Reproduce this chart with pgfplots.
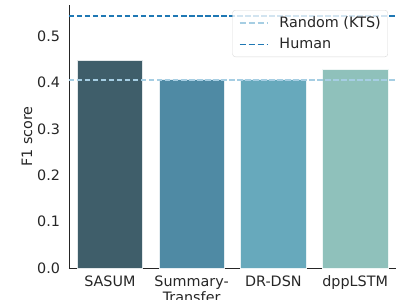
\documentclass[border=0pt]{standalone}
\usepackage{pgfplots}
\pgfplotsset{compat=1.18}
\usepackage{fontspec}
\setmainfont{DejaVu Sans}
\definecolor{txt}{HTML}{262626}
\definecolor{cA}{HTML}{3F5E6A}
\definecolor{cB}{HTML}{4F8AA4}
\definecolor{cC}{HTML}{67A9BC}
\definecolor{cD}{HTML}{8FC1BB}
\definecolor{rnd}{HTML}{A6CEE3}
\definecolor{hum}{HTML}{1F78B4}
\begin{document}
\fontsize{14.4}{17}\selectfont
\begin{tikzpicture}
\begin{axis}[
  scale only axis,
  width=327bp, height=263bp,
  xmin=-0.5, xmax=3.5,
  ymin=0, ymax=0.567,
  axis lines=left,
  axis line style={-, draw=txt, line width=0.8pt},
  major tick length=0pt,
  xtick={0,1,2,3},
  xticklabels={SASUM,{Summary-\\Transfer},DR-DSN,dppLSTM},
  xticklabel style={align=center, text=txt, font=\fontsize{14.4}{16}\selectfont, yshift=-3bp},
  ytick={0,0.1,0.2,0.3,0.4,0.5},
  yticklabel style={text=txt, font=\fontsize{14.4}{17}\selectfont, xshift=-4bp},
  /pgf/number format/assume math mode=true,
  yticklabel={\pgfmathprintnumber[fixed,fixed zerofill,precision=1]{\tick}},
  ylabel={F1 score},
  ylabel shift=-5bp,
  ylabel style={text=txt, font=\fontsize{14.4}{17}\selectfont},
  legend style={at={(1,1)}, anchor=north east, xshift=-8bp, yshift=-5bp,
    draw=black!15, fill=white, fill opacity=0.8, text opacity=1, rounded corners=3pt,
    font=\fontsize{14.4}{17}\selectfont, row sep=5bp, inner xsep=5bp, inner ysep=4bp},
  legend cell align=left,
  clip=false,
]
\addplot[ybar, bar width=0.8, bar shift=0pt, fill=cA, draw=white!85!cA, line width=0.6pt, forget plot] coordinates {(0,0.448)};
\addplot[ybar, bar width=0.8, bar shift=0pt, fill=cB, draw=white!85!cB, line width=0.6pt, forget plot] coordinates {(1,0.407)};
\addplot[ybar, bar width=0.8, bar shift=0pt, fill=cC, draw=white!85!cC, line width=0.6pt, forget plot] coordinates {(2,0.407)};
\addplot[ybar, bar width=0.8, bar shift=0pt, fill=cD, draw=white!85!cD, line width=0.6pt, forget plot] coordinates {(3,0.429)};
\addplot[rnd, line width=1.5pt, dash pattern=on 5.5bp off 2.5bp,
  legend image code/.code={\path[draw=none,fill=none] (0bp,-3bp) rectangle (40bp,3bp); \draw[draw=rnd, solid, line width=1.6pt, dash pattern=on 6bp off 3bp, rounded corners=0pt] (2bp,0bp) -- (30bp,0bp);}]
  coordinates {(-0.5,0.405) (3.5,0.405)};
\addlegendentry{\textcolor{txt}{Random (KTS)}}
\addplot[hum, line width=1.5pt, dash pattern=on 5.5bp off 2.5bp,
  legend image code/.code={\path[draw=none,fill=none] (0bp,-3bp) rectangle (40bp,3bp); \draw[draw=hum, solid, line width=1.6pt, dash pattern=on 6bp off 3bp, rounded corners=0pt] (2bp,0bp) -- (30bp,0bp);}]
  coordinates {(-0.5,0.543) (3.5,0.543)};
\addlegendentry{\textcolor{txt}{Human}}
\end{axis}
\pgfresetboundingbox
\path[use as bounding box] ([xshift=-69bp,yshift=-32bp]current axis.south west) rectangle ([xshift=9bp,yshift=5bp]current axis.north east);
\end{tikzpicture}
\end{document}
